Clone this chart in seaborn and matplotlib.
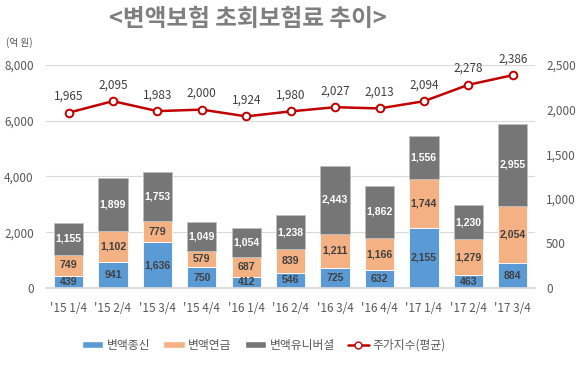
import matplotlib
matplotlib.use("Agg")
import matplotlib.pyplot as plt
import seaborn as sns
import numpy as np
from matplotlib.lines import Line2D
from matplotlib.patches import Patch

categories = ["'15 1/4", "'15 2/4", "'15 3/4", "'15 4/4", "'16 1/4", "'16 2/4",
              "'16 3/4", "'16 4/4", "'17 1/4", "'17 2/4", "'17 3/4"]
whole_life = [439, 941, 1636, 750, 412, 546, 725, 632, 2155, 463, 884]
annuity = [749, 1102, 779, 579, 687, 839, 1211, 1166, 1744, 1279, 2054]
universal = [1155, 1899, 1753, 1049, 1054, 1238, 2443, 1862, 1556, 1230, 2955]
stock_index = [1965, 2095, 1983, 2000, 1924, 1980, 2027, 2013, 2094, 2278, 2386]

series_names = ["변액종신", "변액연금", "변액유니버셜", "주가지수(평균)"]
colors = ["#5B9BD5", "#F4B183", "#767676"]
line_color = "#C00000"

sns.set_theme(style="white")
plt.rcParams['font.family'] = ['Noto Sans CJK KR', 'DejaVu Sans']
narrow = ['Liberation Sans', 'DejaVu Sans']

fig = plt.figure(figsize=(5.83, 3.77), dpi=100)
ax = fig.add_axes([46.3 / 583, 1 - 288 / 377, (535 - 46.3) / 583, (288 - 65) / 377])

b1 = np.array(whole_life)
b2 = b1 + np.array(annuity)

sns.barplot(x=categories, y=whole_life, color=colors[0], width=0.66, ax=ax,
            edgecolor="white", linewidth=0.6, saturation=1)
sns.barplot(x=categories, y=annuity, bottom=b1, color=colors[1], width=0.66, ax=ax,
            edgecolor="white", linewidth=0.6, saturation=1)
sns.barplot(x=categories, y=universal, bottom=b2, color=colors[2], width=0.66, ax=ax,
            edgecolor="#BFBFBF", linewidth=0.6, saturation=1)

for i in range(len(categories)):
    ax.text(i, whole_life[i] / 2, f"{whole_life[i]:,}", ha="center", va="center",
            fontsize=7.6, color="#404040", fontweight="bold", family=narrow)
    ax.text(i, b1[i] + annuity[i] / 2, f"{annuity[i]:,}", ha="center", va="center",
            fontsize=7.6, color="#404040", fontweight="bold", family=narrow)
    ax.text(i, b2[i] + universal[i] / 2, f"{universal[i]:,}", ha="center", va="center",
            fontsize=7.6, color="white", fontweight="bold", family=narrow)

ax.set_ylim(0, 8000)
ax.set_xlim(-0.5, len(categories) - 0.5)
ax.set_yticks([0, 2000, 4000, 6000, 8000])
ax.set_yticklabels([f"{v:,}" for v in [0, 2000, 4000, 6000, 8000]])
ax.yaxis.grid(True, color="#D9D9D9", linewidth=0.8)
ax.set_axisbelow(True)
for s in ["top", "right", "left"]:
    ax.spines[s].set_visible(False)
ax.spines["bottom"].set_color("#D9D9D9")
ax.tick_params(axis="y", labelsize=8.5, colors="#595959", length=0, pad=9)
ax.tick_params(axis="x", labelsize=8.5, colors="#595959", length=0, pad=10)
ax.set_xlabel("")
ax.set_ylabel("")

ax2 = ax.twinx()
xs = np.arange(len(categories))
ax2.plot(xs, stock_index, color=line_color, linewidth=1.8, marker="o",
         markersize=5.5, markerfacecolor="white", markeredgecolor=line_color,
         markeredgewidth=1.4, zorder=5)
for i, v in enumerate(stock_index):
    ax2.annotate(f"{v:,}", (i, v), textcoords="offset points", xytext=(0, 7),
                 ha="center", va="bottom", fontsize=8.5, color="#404040")
ax2.set_ylim(0, 2500)
ax2.set_yticks([0, 500, 1000, 1500, 2000, 2500])
ax2.set_yticklabels([f"{v:,}" for v in [0, 500, 1000, 1500, 2000, 2500]])
ax2.tick_params(axis="y", labelsize=8.5, colors="#595959", length=0, pad=8)
for s in ["top", "right", "left", "bottom"]:
    ax2.spines[s].set_visible(False)
ax2.grid(False)

fig.text(248 / 583, 1 - 19 / 377, "<변액보험 초회보험료 추이>", ha="center", va="center",
         fontsize=17, fontweight="bold", color="#7F7F7F")
fig.text(6 / 583, 1 - 43 / 377, "(억 원)", ha="left", va="center", fontsize=7, color="#595959")

handles = [Patch(facecolor=colors[0]), Patch(facecolor=colors[1]), Patch(facecolor=colors[2]),
           Line2D([0], [0], color=line_color, marker="o", markerfacecolor="white",
                  markeredgecolor=line_color, linewidth=1.8, markersize=5)]
fig.legend(handles, series_names, loc="center", bbox_to_anchor=(264 / 583, 1 - 345 / 377),
           ncol=4, frameon=False, fontsize=8.5, handlelength=1.8, handleheight=0.6,
           handletextpad=0.3, columnspacing=1.1, labelcolor="#595959")

fig.savefig("out.png", dpi=100)
